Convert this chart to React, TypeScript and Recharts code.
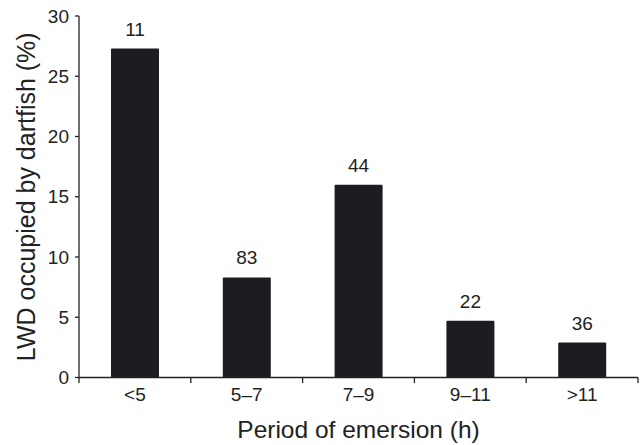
import { Bar, BarChart, LabelList, XAxis, YAxis } from "recharts";

const periods = ["<5", "5–7", "7–9", "9–11", ">11"];
const occupied = [27.3, 8.3, 16.0, 4.7, 2.9];
const sampleSizes = [11, 83, 44, 22, 36];
const yTicks = [0, 5, 10, 15, 20, 25, 30];

const data = periods.map((period, i) => ({
  period,
  occupied: occupied[i],
  n: sampleSizes[i]
}));

const font = "'Liberation Sans', Arial, sans-serif";
const ink = "#222";

// category ticks sit on the band edges, not the centres
const BoundaryTick = (props: any) => {
  const { x, y, payload, index, width, visibleTicksCount } = props;
  const band = visibleTicksCount ? width / visibleTicksCount : (payload.offset || 0) * 2;
  const left = x - band / 2;
  const right = x + band / 2;
  return (
    <g>
      <line x1={left} y1={y} x2={left} y2={y + 5.5} stroke={ink} strokeWidth={1.3} />
      {index === visibleTicksCount - 1 && (
        <line x1={right} y1={y} x2={right} y2={y + 5.5} stroke={ink} strokeWidth={1.3} />
      )}
      <text x={x} y={y} dy={23} textAnchor="middle" fontSize={19} fontFamily={font} fill={ink}>
        {payload.value}
      </text>
    </g>
  );
};

export default function App() {
  return (
    <div style={{ position: "absolute", left: 0, top: 0, background: "#fff" }}>
      <BarChart
        width={641}
        height={445}
        data={data}
        margin={{ top: 16, right: 3, bottom: 0, left: 0 }}
        barSize={48}
      >
        <XAxis
          dataKey="period"
          height={67.5}
          tickLine={false}
          tickSize={0}
          tickMargin={0}
          axisLine={{ stroke: ink, strokeWidth: 1.3 }}
          tick={<BoundaryTick />}
          interval={0}
          label={{
            value: "Period of emersion (h)",
            position: "insideBottom",
            offset: 7,
            style: { fontSize: 24.5, fontFamily: font, fill: ink }
          }}
        />
        <YAxis
          width={79}
          domain={[0, 30]}
          ticks={yTicks}
          interval={0}
          tickSize={4}
          tickMargin={6}
          axisLine={{ stroke: ink, strokeWidth: 1.3 }}
          tickLine={{ stroke: ink, strokeWidth: 1.3 }}
          tick={{ fontSize: 19, fontFamily: font, fill: ink }}
          label={{
            value: "LWD occupied by dartfish (%)",
            angle: -90,
            position: "insideLeft",
            offset: 26,
            style: { fontSize: 25, fontFamily: font, fill: ink, textAnchor: "middle" }
          }}
        />
        <Bar dataKey="occupied" fill="#1c1d20" radius={1} isAnimationActive={false}>
          <LabelList
            dataKey="n"
            position="top"
            offset={13}
            style={{ fontSize: 19, fontFamily: font, fill: ink }}
          />
        </Bar>
      </BarChart>
    </div>
  );
}
